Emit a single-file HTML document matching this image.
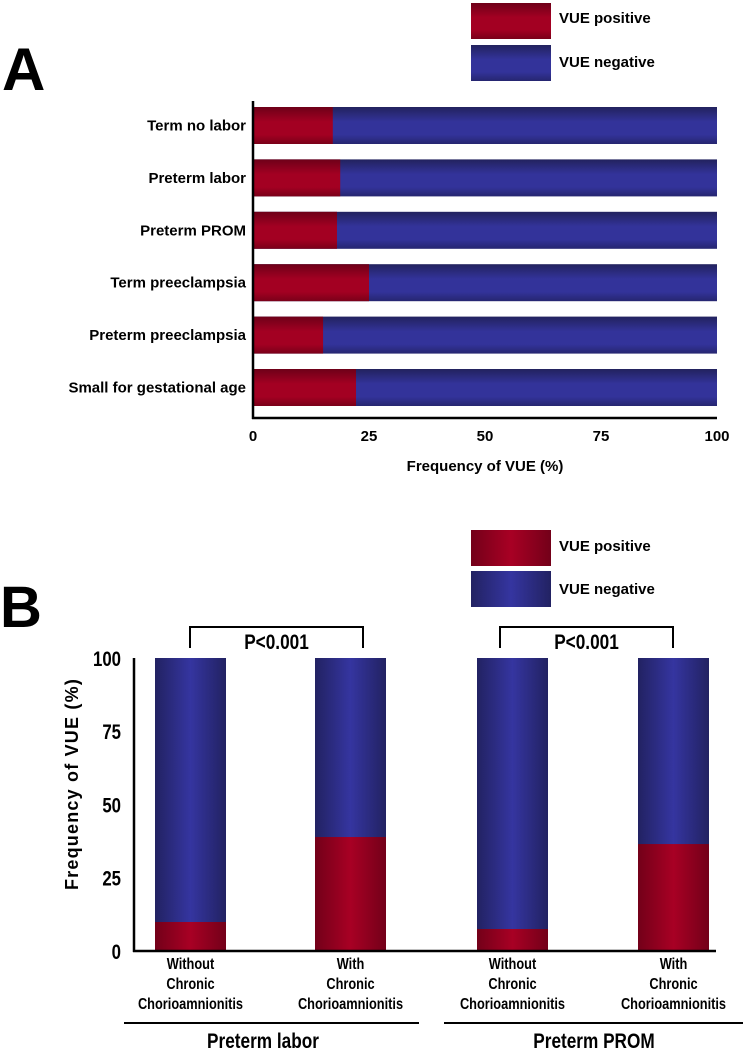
<!DOCTYPE html>
<html><head><meta charset="utf-8"><style>
html,body{margin:0;padding:0;background:#fff}
svg{display:block;font-family:"Liberation Sans",Arial,sans-serif}
</style></head><body>
<svg id="fig" width="743" height="1050" viewBox="0 0 743 1050" xmlns="http://www.w3.org/2000/svg">
<defs>
<linearGradient id="rv" x1="0" y1="0" x2="0" y2="1"><stop offset="0" stop-color="#6e0018"/><stop offset="0.4" stop-color="#a30022"/><stop offset="0.75" stop-color="#a30022"/><stop offset="1" stop-color="#7a0019"/></linearGradient>
<linearGradient id="bv" x1="0" y1="0" x2="0" y2="1"><stop offset="0" stop-color="#22225e"/><stop offset="0.4" stop-color="#33339a"/><stop offset="0.75" stop-color="#33339a"/><stop offset="1" stop-color="#262670"/></linearGradient>
<linearGradient id="rh" x1="0" y1="0" x2="1" y2="0"><stop offset="0" stop-color="#730019"/><stop offset="0.5" stop-color="#a80024"/><stop offset="1" stop-color="#730019"/></linearGradient>
<linearGradient id="bh" x1="0" y1="0" x2="1" y2="0"><stop offset="0" stop-color="#222262"/><stop offset="0.5" stop-color="#3535a0"/><stop offset="1" stop-color="#222262"/></linearGradient>
</defs>
<g id="A"></g>
<g id="B"></g>
</svg>
<script>
// Panel A data
const catsA = ["Term no labor","Preterm labor","Preterm PROM","Term preeclampsia","Preterm preeclampsia","Small for gestational age"];
const posA = [17.2, 18.8, 18.1, 25.0, 15.1, 22.2];
const ticksA = [0, 25, 50, 75, 100];
// Panel B data
const groupsB = ["Preterm labor","Preterm PROM"];
const catsB = ["Without|Chronic|Chorioamnionitis","With|Chronic|Chorioamnionitis","Without|Chronic|Chorioamnionitis","With|Chronic|Chorioamnionitis"];
const posB = [9.9, 38.9, 7.5, 36.5];
const ticksB = [0, 25, 50, 75, 100];
const pvals = ["P<0.001","P<0.001"];

const NS="http://www.w3.org/2000/svg";
function mk(parent,tag,attrs,text){const e=document.createElementNS(NS,tag);for(const k in attrs)e.setAttribute(k,attrs[k]);if(text!==undefined)e.textContent=text;parent.appendChild(e);return e;}

// ---------- Panel A ----------
const A=document.getElementById('A');
const xA=v=>253+v/100*464;
const rowTop=i=>107+i*52.4;
const barH=37;
let t=mk(A,'text',{x:2,y:90,'font-size':60,'font-weight':'bold'},'A');

let r=mk(A,'rect',{x:471,y:3,width:80,height:36,fill:'url(#rv)'});

r=mk(A,'rect',{x:471,y:45,width:80,height:36,fill:'url(#bv)'});

t=mk(A,'text',{x:559,y:23,'font-size':15,'font-weight':'bold'},'VUE positive');

t=mk(A,'text',{x:559,y:67,'font-size':15,'font-weight':'bold'},'VUE negative');

catsA.forEach((c,i)=>{
  const y=rowTop(i);
  let b=mk(A,'rect',{x:xA(0),y:y,width:xA(100)-xA(0),height:barH,fill:'url(#bv)'});
  
  b=mk(A,'rect',{x:xA(0),y:y,width:xA(posA[i])-xA(0),height:barH,fill:'url(#rv)'});
  
  const l=mk(A,'text',{x:246,y:y+barH/2+5,'font-size':15,'font-weight':'bold','text-anchor':'end'},c);
  
});
let ln=mk(A,'line',{x1:253,y1:101,x2:253,y2:419,stroke:'#000','stroke-width':2.5});

ln=mk(A,'line',{x1:252,y1:418,x2:717,y2:418,stroke:'#000','stroke-width':2.5});

ticksA.forEach((v,i)=>{
  const tl=mk(A,'text',{x:xA(v),y:441,'font-size':15,'font-weight':'bold','text-anchor':'middle'},String(v));
  
});
t=mk(A,'text',{x:485,y:471,'font-size':15,'font-weight':'bold','text-anchor':'middle'},'Frequency of VUE (%)');


// ---------- Panel B ----------
const B=document.getElementById('B');
const yB=v=>951-v/100*293;
const barX=[155,315,477,638];
const bw=71;
t=mk(B,'text',{x:0,y:627,'font-size':58,'font-weight':'bold'},'B');

r=mk(B,'rect',{x:471,y:530,width:80,height:36,fill:'url(#rh)'});

r=mk(B,'rect',{x:471,y:571,width:80,height:36,fill:'url(#bh)'});

t=mk(B,'text',{x:559,y:551,'font-size':15,'font-weight':'bold'},'VUE positive');

t=mk(B,'text',{x:559,y:594,'font-size':15,'font-weight':'bold'},'VUE negative');

catsB.forEach((c,i)=>{
  let b=mk(B,'rect',{x:barX[i],y:yB(100),width:bw,height:yB(0)-yB(100),fill:'url(#bh)'});
  
  b=mk(B,'rect',{x:barX[i],y:yB(posB[i]),width:bw,height:yB(0)-yB(posB[i]),fill:'url(#rh)'});
  
  const cx=barX[i]+bw/2;
  c.split('|').forEach((w,j)=>{
    const l=mk(B,'text',{x:cx,y:969+j*20,'font-size':16,'font-weight':'bold','text-anchor':'middle',transform:`translate(${cx} 0) scale(0.8 1) translate(${-cx} 0)`},w);
    
  });
});
ln=mk(B,'line',{x1:134,y1:658,x2:134,y2:952,stroke:'#000','stroke-width':2.5});

ln=mk(B,'line',{x1:133,y1:951,x2:716,y2:951,stroke:'#000','stroke-width':2.5});

ticksB.forEach((v,i)=>{
  const tl=mk(B,'text',{x:121,y:yB(v)+8,'font-size':21,'font-weight':'bold','text-anchor':'end',transform:`translate(121 0) scale(0.8 1) translate(-121 0)`},String(v));
  
});
t=mk(B,'text',{x:0,y:0,'font-size':18,'font-weight':'bold','text-anchor':'middle','letter-spacing':1.2,transform:'translate(78 784) rotate(-90)'},'Frequency of VUE (%)');

const brk=[[190,363],[500,673]];
pvals.forEach((p,i)=>{
  const [a,b2]=brk[i];
  const pl=mk(B,'polyline',{points:`${a},648 ${a},627 ${b2},627 ${b2},648`,fill:'none',stroke:'#000','stroke-width':2});
  
  const mx=(a+b2)/2;
  const pt=mk(B,'text',{x:mx,y:649,'font-size':21,'font-weight':'bold','text-anchor':'middle',transform:`translate(${mx} 0) scale(0.82 1) translate(${-mx} 0)`},p);
  
});
const under=[[124,419],[444,743]];
groupsB.forEach((g,i)=>{
  const [a,b2]=under[i];
  const u=mk(B,'line',{x1:a,y1:1023,x2:b2,y2:1023,stroke:'#000','stroke-width':2});
  
  const mx=i===0?263:594;
  const gt=mk(B,'text',{x:mx,y:1048,'font-size':21,'font-weight':'bold','text-anchor':'middle',transform:`translate(${mx} 0) scale(0.82 1) translate(${-mx} 0)`},g);
  
});
</script>
</body></html>
